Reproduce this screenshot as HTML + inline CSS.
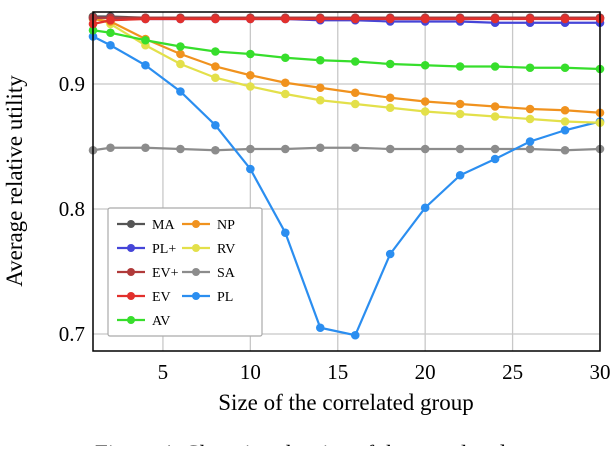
<!DOCTYPE html>
<html><head><meta charset="utf-8"><style>
body{margin:0;background:#fff;width:612px;height:446px;overflow:hidden}
text{font-family:"Liberation Serif",serif;fill:#000}
</style></head><body>
<svg id="chart" width="612" height="446" xmlns="http://www.w3.org/2000/svg">
<g id="grid"></g><g id="series"></g><g id="axes"></g><g id="legend"></g>
</svg>
<script>
const xs=[1,2,4,6,8,10,12,14,16,18,20,22,24,26,28,30];
const xTicks=[5,10,15,20,25,30];
const yTicks=[0.7,0.8,0.9];
const yTickLabels=["0.7","0.8","0.9"];
const seriesNames=["SA","PL","RV","NP","AV","MA","PL+","EV+","EV"];
const seriesColors=["#8c8c8c","#2b8ef0","#e3e04a","#f0921e","#37de2c","#555555","#4545d8","#b03a3a","#e2302c"];
const SA=[0.847,0.849,0.849,0.848,0.847,0.848,0.848,0.849,0.849,0.848,0.848,0.848,0.848,0.848,0.847,0.848];
const PL=[0.938,0.931,0.915,0.894,0.867,0.832,0.781,0.705,0.699,0.764,0.801,0.827,0.840,0.854,0.863,0.870];
const RV=[0.954,0.948,0.931,0.916,0.905,0.898,0.892,0.887,0.884,0.881,0.878,0.876,0.874,0.872,0.870,0.869];
const NP=[0.952,0.950,0.936,0.924,0.914,0.907,0.901,0.897,0.893,0.889,0.886,0.884,0.882,0.880,0.879,0.877];
const AV=[0.943,0.941,0.935,0.930,0.926,0.924,0.921,0.919,0.918,0.916,0.915,0.914,0.914,0.913,0.913,0.912];
const MA=[0.954,0.954,0.953,0.953,0.953,0.953,0.953,0.953,0.953,0.953,0.953,0.953,0.953,0.953,0.953,0.953];
const PLp=[0.953,0.953,0.952,0.952,0.952,0.952,0.952,0.951,0.951,0.950,0.950,0.950,0.949,0.949,0.949,0.949];
const EVp=[0.953,0.953,0.953,0.953,0.953,0.953,0.953,0.953,0.953,0.953,0.953,0.953,0.953,0.953,0.953,0.953];
const EV=[0.948,0.951,0.952,0.952,0.952,0.952,0.952,0.952,0.952,0.952,0.952,0.952,0.952,0.952,0.952,0.952];
const seriesData=[SA,PL,RV,NP,AV,MA,PLp,EVp,EV];
const L=93,R=600,T=12,B=351;
const X=v=>L+(v-1)*(R-L)/29;
const Y=v=>334-(v-0.7)*1250;
const NS="http://www.w3.org/2000/svg";
function mk(tag,attrs,parent,txt){const e=document.createElementNS(NS,tag);for(const k in attrs)e.setAttribute(k,attrs[k]);if(txt!==undefined)e.textContent=txt;parent.appendChild(e);return e;}
const grid=document.getElementById('grid'),ser=document.getElementById('series'),axes=document.getElementById('axes'),leg=document.getElementById('legend');
xTicks.forEach(t=>{const l=mk('line',{x1:X(t),x2:X(t),y1:T,y2:B,stroke:'#c8c8c8','stroke-width':1.3},grid);


const tx=mk('text',{x:X(t),y:B+28,'text-anchor':'middle','font-size':21},axes,String(t));

});
yTicks.forEach((t,i)=>{const l=mk('line',{x1:L,x2:R,y1:Y(t),y2:Y(t),stroke:'#c8c8c8','stroke-width':1.3},grid);


const tx=mk('text',{x:L-8,y:Y(t)+7,'text-anchor':'end','font-size':21},axes,yTickLabels[i]);

});
seriesData.forEach((d,i)=>{const g=mk('g',{},ser);


mk('polyline',{points:d.map((v,j)=>X(xs[j])+','+Y(v)).join(' '),fill:'none',stroke:seriesColors[i],'stroke-width':2.2},g);
d.forEach((v,j)=>{const c=mk('circle',{cx:X(xs[j]),cy:Y(v),r:4.3,fill:seriesColors[i]},g);

});});
const frame=mk('rect',{x:L,y:T,width:R-L,height:B-T,fill:'none',stroke:'#000','stroke-width':1.5},axes);


const xt=mk('text',{x:346,y:410,'text-anchor':'middle','font-size':23},axes,'Size of the correlated group');


const yt=mk('text',{x:0,y:0,'text-anchor':'middle','font-size':23,transform:'translate(22,181) rotate(-90)'},axes,'Average relative utility');


const cap=mk('text',{x:95,y:461,'font-size':23},axes,'Figure 4: Changing the size of the correlated group');


const box=mk('rect',{x:108,y:208,width:154,height:128,fill:'#fff',stroke:'#aaa','stroke-width':1.2,rx:2},leg);


const legOrder=[[5,6,7,8,4],[3,2,0,1]];
legOrder.forEach((col,ci)=>col.forEach((si,ri)=>{const x0=ci?182:117,y0=224+ri*24;
const g=mk('g',{},leg);


mk('line',{x1:x0,x2:x0+28,y1:y0,y2:y0,stroke:seriesColors[si],'stroke-width':2.2},g);
mk('circle',{cx:x0+14,cy:y0,r:4,fill:seriesColors[si]},g);
mk('text',{x:x0+35,y:y0+5,'font-size':14},g,seriesNames[si]);}));
</script>
</body></html>
